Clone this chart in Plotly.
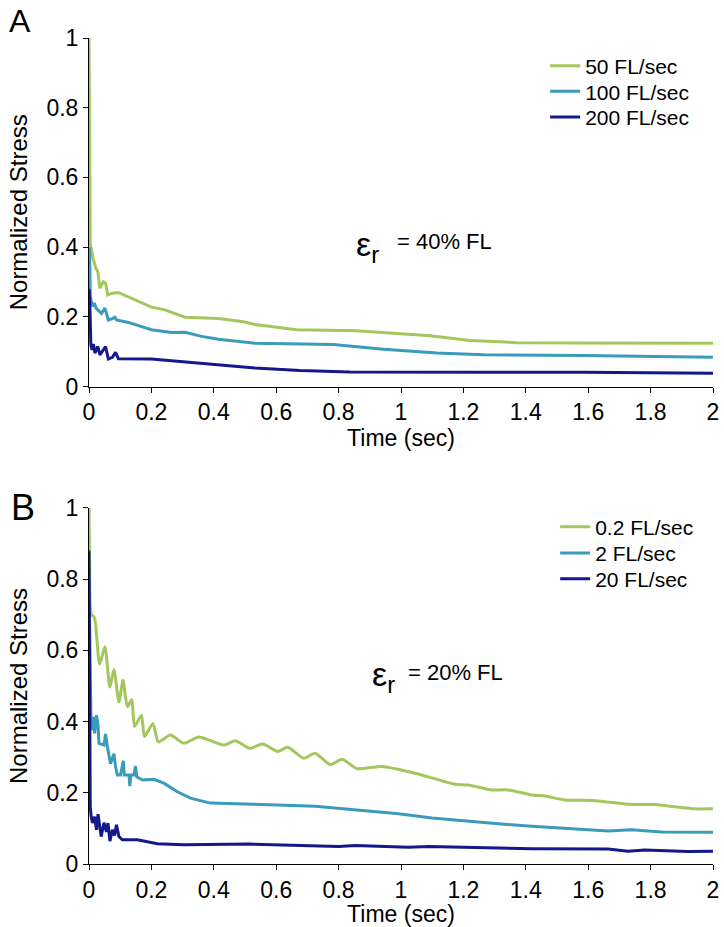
import plotly.graph_objects as go

# --- data ---
# Panel A: strain 40% FL, time (s) vs normalized stress
a_t_50 = [0, 0.002, 0.004, 0.013, 0.022, 0.028, 0.035, 0.046, 0.053, 0.06, 0.075, 0.094, 0.126, 0.16,
          0.2, 0.243, 0.308, 0.415, 0.49, 0.532, 0.6, 0.666, 0.858, 0.976, 1.093, 1.222, 1.371, 1.585, 2.0]
a_v_50 = [1.0, 0.6, 0.41, 0.368, 0.34, 0.33, 0.282, 0.301, 0.297, 0.263, 0.268, 0.27, 0.258, 0.245,
          0.228, 0.22, 0.199, 0.195, 0.187, 0.178, 0.17, 0.163, 0.16, 0.153, 0.146, 0.132, 0.126, 0.125, 0.124]

a_t_100 = [0, 0.002, 0.004, 0.011, 0.017, 0.023, 0.028, 0.04, 0.051, 0.062, 0.075, 0.083, 0.088, 0.126,
           0.2, 0.265, 0.308, 0.361, 0.415, 0.532, 0.783, 0.944, 1.115, 1.264, 1.585, 2.0]
a_v_100 = [0.40, 0.39, 0.258, 0.23, 0.24, 0.225, 0.22, 0.21, 0.225, 0.191, 0.195, 0.199, 0.191, 0.184,
           0.163, 0.155, 0.156, 0.144, 0.136, 0.124, 0.121, 0.107, 0.096, 0.091, 0.089, 0.084]

a_t_200 = [0, 0.002, 0.006, 0.01, 0.014, 0.019, 0.028, 0.035, 0.046, 0.053, 0.062, 0.075, 0.085, 0.094,
           0.2, 0.286, 0.372, 0.468, 0.532, 0.676, 0.836, 1.264, 1.585, 2.0]
a_v_200 = [0.28, 0.26, 0.12, 0.105, 0.122, 0.096, 0.115, 0.091, 0.105, 0.115, 0.079, 0.084, 0.098, 0.08,
           0.079, 0.072, 0.065, 0.057, 0.053, 0.046, 0.042, 0.041, 0.041, 0.038]

# Panel B: strain 20% FL
b_t_02 = [0, 0.002, 0.004, 0.008, 0.016, 0.021, 0.034, 0.051, 0.067, 0.08, 0.096, 0.109, 0.123, 0.137,
          0.146, 0.168, 0.178, 0.205, 0.222, 0.261, 0.304, 0.352, 0.432, 0.469, 0.515, 0.557, 0.605,
          0.637, 0.688, 0.725, 0.773, 0.811, 0.859, 0.939, 1.045, 1.173, 1.216, 1.291, 1.344, 1.419,
          1.461, 1.525, 1.621, 1.739, 1.813, 1.877, 1.941, 2.0]
b_v_02 = [1.0, 0.85, 0.72, 0.70, 0.694, 0.675, 0.561, 0.61, 0.497, 0.546, 0.455, 0.516, 0.442, 0.462,
          0.386, 0.418, 0.358, 0.395, 0.343, 0.362, 0.339, 0.357, 0.334, 0.346, 0.325, 0.337, 0.316,
          0.328, 0.297, 0.311, 0.279, 0.294, 0.268, 0.274, 0.255, 0.224, 0.222, 0.208, 0.208, 0.194,
          0.191, 0.18, 0.178, 0.167, 0.167, 0.161, 0.155, 0.155]

b_t_2 = [0, 0.003, 0.006, 0.01, 0.014, 0.018, 0.024, 0.029, 0.032, 0.048, 0.053, 0.059, 0.069, 0.08,
         0.085, 0.091, 0.101, 0.11, 0.113, 0.128, 0.131, 0.134, 0.144, 0.149, 0.153, 0.171, 0.208, 0.24,
         0.283, 0.325, 0.389, 0.528, 0.725, 0.832, 0.992, 1.099, 1.205, 1.312, 1.419, 1.547, 1.664,
         1.739, 1.835, 2.0]
b_v_2 = [0.80, 0.55, 0.42, 0.376, 0.413, 0.367, 0.418, 0.39, 0.339, 0.334, 0.365, 0.329, 0.282, 0.31,
         0.273, 0.25, 0.25, 0.29, 0.25, 0.25, 0.219, 0.25, 0.25, 0.275, 0.245, 0.236, 0.238, 0.227,
         0.203, 0.185, 0.171, 0.168, 0.162, 0.154, 0.141, 0.129, 0.12, 0.113, 0.106, 0.099, 0.093,
         0.096, 0.09, 0.089]

b_t_20 = [0, 0.002, 0.004, 0.007, 0.011, 0.018, 0.024, 0.029, 0.035, 0.039, 0.048, 0.056, 0.061, 0.067,
          0.075, 0.082, 0.088, 0.096, 0.107, 0.155, 0.219, 0.304, 0.512, 0.619, 0.8, 0.853, 1.024,
          1.088, 1.312, 1.419, 1.664, 1.728, 1.781, 1.92, 2.0]
b_v_20 = [0.88, 0.5, 0.16, 0.133, 0.115, 0.133, 0.096, 0.14, 0.098, 0.077, 0.116, 0.09, 0.115, 0.064,
          0.096, 0.08, 0.11, 0.077, 0.068, 0.068, 0.057, 0.054, 0.056, 0.054, 0.049, 0.052, 0.047,
          0.049, 0.044, 0.043, 0.042, 0.036, 0.039, 0.035, 0.036]

GREEN = "#A3C75C"
TEAL = "#3A9BBC"
NAVY = "#13198A"
FONT = "Liberation Sans, Arial, sans-serif"

fig = go.Figure()

series = [
    (a_t_50, a_v_50, "50 FL/sec", GREEN, "x", "y", "legend", "linear"),
    (a_t_100, a_v_100, "100 FL/sec", TEAL, "x", "y", "legend2", "linear"),
    (a_t_200, a_v_200, "200 FL/sec", NAVY, "x", "y", "legend3", "linear"),
    (b_t_02, b_v_02, "0.2 FL/sec", GREEN, "x2", "y2", "legend4", "spline"),
    (b_t_2, b_v_2, "2 FL/sec", TEAL, "x2", "y2", "legend5", "linear"),
    (b_t_20, b_v_20, "20 FL/sec", NAVY, "x2", "y2", "legend6", "linear"),
]
for t, v, name, color, xa, ya, leg, shape in series:
    fig.add_trace(go.Scatter(
        x=t, y=v, name=name, mode="lines", xaxis=xa, yaxis=ya, legend=leg,
        line=dict(color=color, width=3, shape=shape, smoothing=0.6 if shape == "spline" else None),
    ))

axis_style = dict(
    showline=True, linecolor="black", linewidth=1, showgrid=False, zeroline=False,
    ticks="outside", ticklen=5, tickcolor="black", automargin=False,
    tickfont=dict(family=FONT, size=23, color="black"),
)
x_style = dict(axis_style, range=[0, 2], dtick=0.2, tick0=0,
               title=dict(text="Time (sec)", font=dict(family=FONT, size=23, color="black"), standoff=4))
y_style = dict(axis_style, range=[0, 1], dtick=0.2, tick0=0,
               title=dict(text="Normalized Stress", font=dict(family=FONT, size=24, color="black"), standoff=12))

# one legend per entry so the rows sit where they are in the figure
legend_pos = {
    "legend": (0.731, 0.966), "legend2": (0.731, 0.935), "legend3": (0.731, 0.904),
    "legend4": (0.747, 0.408), "legend5": (0.747, 0.376), "legend6": (0.747, 0.345),
}
legends = {}
for key, (lx, ly) in legend_pos.items():
    legends[key] = dict(x=lx, y=ly, xanchor="left", yanchor="middle", bgcolor="rgba(0,0,0,0)",
                        font=dict(family=FONT, size=21, color="black"))


def note(text, x, y, size, xanchor="left"):
    return dict(text=text, x=x, y=y, xref="paper", yref="paper", xanchor=xanchor, yanchor="middle",
                showarrow=False, font=dict(family=FONT, size=size, color="black"))


fig.update_layout(
    width=724, height=927,
    margin=dict(l=89, r=11, t=38, b=63, autoexpand=False),
    paper_bgcolor="white", plot_bgcolor="white",
    xaxis=dict(x_style, domain=[0, 1], anchor="y"),
    yaxis=dict(y_style, domain=[0.578, 1], anchor="x"),
    xaxis2=dict(x_style, domain=[0, 1], anchor="y2"),
    yaxis2=dict(y_style, domain=[0, 0.431], anchor="x2"),
    showlegend=True,
    **legends,
    annotations=[
        note("A", -0.110, 1.020, 32, "center"),
        note("B", -0.105, 0.4316, 36, "center"),
        note("ε<sub>r</sub>", 0.4247, 0.747, 34),
        note("= 40% FL", 0.4904, 0.7536, 22),
        note("ε<sub>r</sub>", 0.4503, 0.2275, 34),
        note("= 20% FL", 0.508, 0.2318, 22),
    ],
)

# drop the default page margin so the 724x927 figure fills the window exactly
fig.write_html("out.html", config={"displayModeBar": False},
               post_script="document.body.style.margin='0';")
